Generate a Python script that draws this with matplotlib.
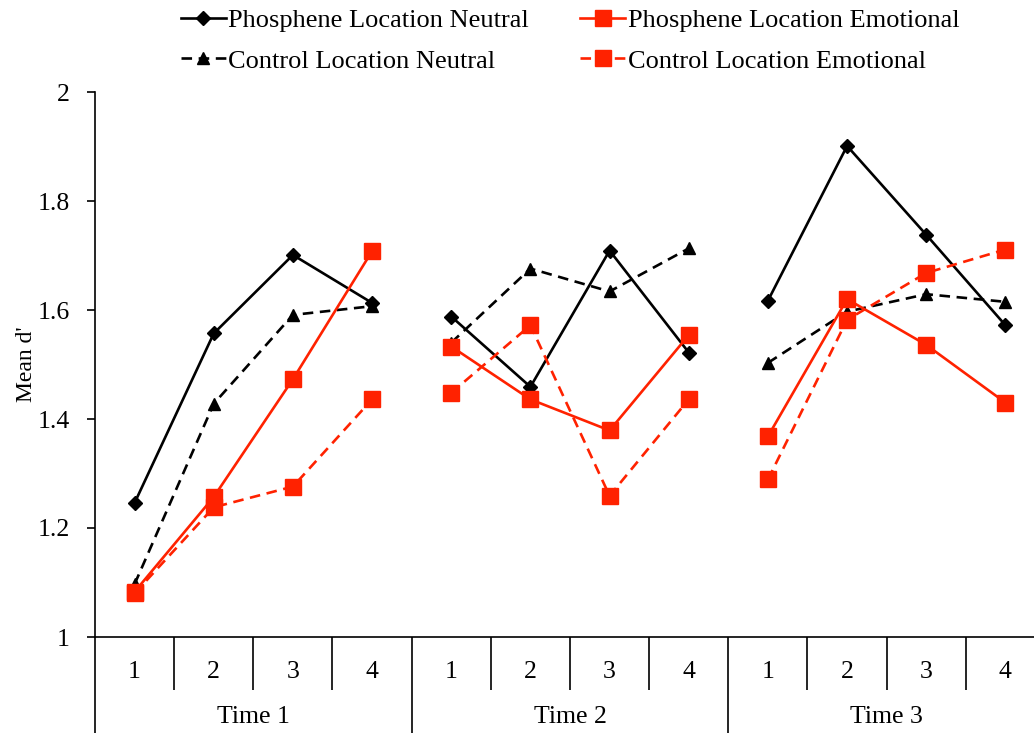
import numpy as np
import matplotlib.pyplot as plt
import matplotlib.transforms as mtransforms

plt.rcParams['font.family'] = ['Liberation Serif', 'DejaVu Serif']

# values, 4 sessions per time block
sessions = ['1', '2', '3', '4']
times = ['Time 1', 'Time 2', 'Time 3']

phos_neutral = [1.246, 1.557, 1.701, 1.613,
                1.588, 1.459, 1.709, 1.522,
                1.617, 1.901, 1.738, 1.572]
ctrl_neutral = [1.097, 1.428, 1.591, 1.607,
                1.540, 1.676, 1.634, 1.713,
                1.503, 1.597, 1.629, 1.615]
phos_emot = [1.083, 1.257, 1.473, 1.708,
             1.533, 1.436, 1.379, 1.554,
             1.368, 1.620, 1.536, 1.430]
ctrl_emot = [1.080, 1.238, 1.276, 1.436,
             1.448, 1.572, 1.259, 1.436,
             1.289, 1.582, 1.668, 1.711]

red = '#ff2200'
dash = (0, (4, 2.5))
# order so that column-wise legend fill gives the reference layout
series = [
    (phos_neutral, 'Phosphene Location Neutral', 'black', '-', 'D', 7),
    (ctrl_neutral, 'Control Location Neutral', 'black', dash, '^', 8),
    (phos_emot, 'Phosphene Location Emotional', red, '-', 's', 11.5),
    (ctrl_emot, 'Control Location Emotional', red, dash, 's', 11.5),
]

fig = plt.figure(figsize=(10.34, 7.33), dpi=100)
ax = fig.add_axes([95/1034, (733-637)/733, 950/1034, 545/733])

n = len(sessions)
for vals, lab, col, ls, mk, ms in series:
    for g in range(len(times)):
        xs = np.arange(g*n, (g+1)*n)
        ax.plot(xs, vals[g*n:(g+1)*n], color=col, ls=ls, lw=1.9,
                marker=mk, ms=ms, mec=col, mfc=col,
                label=lab if g == 0 else None)

ax.set_xlim(-0.5, len(times)*n - 0.5)
ax.set_ylim(1, 2)
ax.set_yticks(np.arange(1, 2.01, 0.2))
ax.set_yticklabels(['1', '1.2', '1.4', '1.6', '1.8', '2'])
ax.tick_params(axis='y', direction='out', length=6, width=1.2, labelsize=18.5, pad=12)

# group boundaries as long ticks, session boundaries as short ones
ax.set_xticks([-0.5 + g*n for g in range(len(times)+1)])
ax.set_xticks([b - 0.5 for b in range(len(times)*n) if b % n != 0], minor=True)
ax.tick_params(axis='x', which='major', direction='out', length=70, width=1.2, labelbottom=False)
ax.tick_params(axis='x', which='minor', direction='out', length=38, width=1.2, labelbottom=False)

trans = mtransforms.blended_transform_factory(ax.transData, ax.transAxes)
for i in range(len(times)*n):
    ax.text(i, -0.064, sessions[i % n], transform=trans, ha='center', va='center', fontsize=18.5)
for g, t in enumerate(times):
    ax.text(g*n + 1.5, -0.147, t, transform=trans, ha='center', va='center', fontsize=18.5)

for s in ['top', 'right']:
    ax.spines[s].set_visible(False)
for s in ['left', 'bottom']:
    ax.spines[s].set_linewidth(1.2)

ax.set_ylabel("Mean d'", fontsize=17)
ax.yaxis.set_label_coords(-58/950, 0.5)

fig.legend(loc='upper left', bbox_to_anchor=(178/1034, 1 - 6/733), ncol=2, frameon=False,
           fontsize=19, handlelength=1.7, handletextpad=0.1, columnspacing=1.95,
           labelspacing=0.65, numpoints=1, borderpad=0.1, borderaxespad=0.0)

fig.savefig('out.png', dpi=100)
